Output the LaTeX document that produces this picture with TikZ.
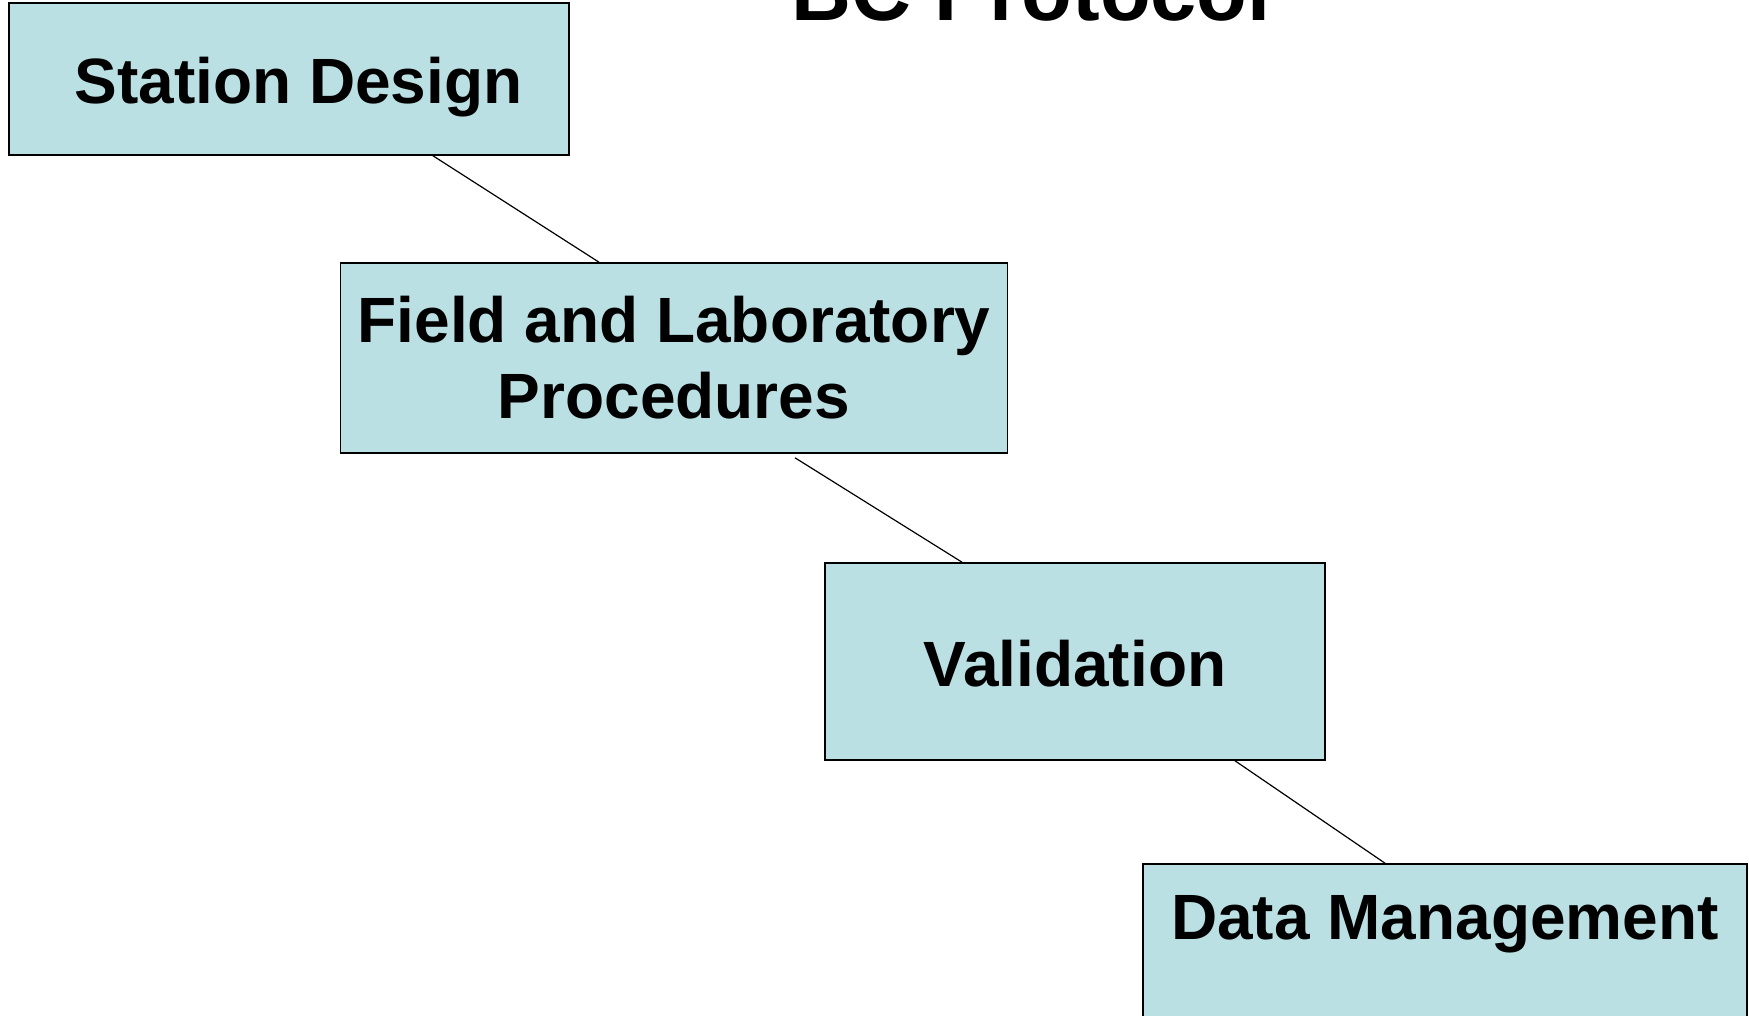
\documentclass[tikz,border=0pt]{standalone}
\usepackage{fontspec}
\setmainfont{Liberation Sans}
\usepackage{xcolor}
\definecolor{boxfill}{HTML}{BBE0E3}

\begin{document}
\begin{tikzpicture}[x=0.5pt,y=-0.5pt,thick,
    step node/.style={rectangle,draw,fill=boxfill,line width=0.8pt,inner sep=0pt,align=center,font=\fontsize{32}{38}\selectfont\bfseries},
    one line/.style={text height=30.5pt,text depth=5.5pt}]

            \useasboundingbox (0,0) rectangle (1749,1016);
            \clip (0,0) rectangle (1749,1016);

            \node[anchor=base, font=\fontsize{41.5}{50}\selectfont\bfseries] (title) at (1031,21) {BC Protocol};

            \node[step node, one line, minimum width=280pt, minimum height=76pt] (sd) at (289,79) {\hspace*{9.5pt}Station Design};
            \node[step node, minimum width=333.5pt, minimum height=95pt] (flp) at (674,358) {Field and Laboratory\\Procedures};
            \node[step node, one line, minimum width=250pt, minimum height=98.5pt] (val) at (1075,661.5) {Validation};
            \node[step node, minimum width=302pt, minimum height=91pt] (dm) at (1445,955) {Data Management\\\mbox{}};

            \path[draw, line width=0.6pt]
                ([xshift=72pt]sd.south) edge ([xshift=-37.5pt]flp.north)
                ([xshift=60.5pt,yshift=-2pt]flp.south) edge ([xshift=-56.5pt]val.north)
                ([xshift=80pt]val.south) edge ([xshift=-30pt]dm.north)
                ;
        \end{tikzpicture}
\end{document}
